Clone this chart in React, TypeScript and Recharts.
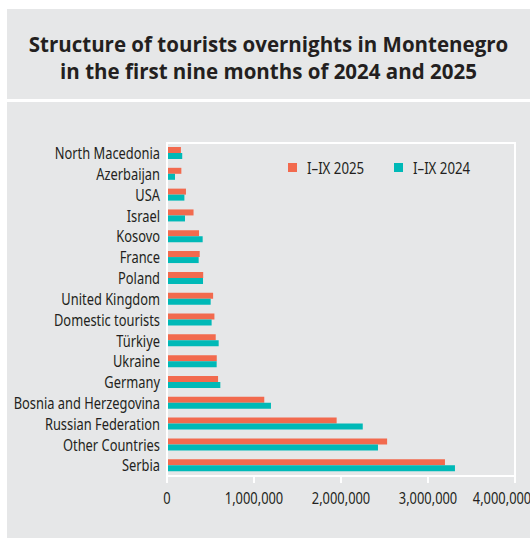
import { Bar, BarChart, ReferenceArea, XAxis, YAxis } from "recharts";

const countries = [
  "North Macedonia",
  "Azerbaijan",
  "USA",
  "Israel",
  "Kosovo",
  "France",
  "Poland",
  "United Kingdom",
  "Domestic tourists",
  "Türkiye",
  "Ukraine",
  "Germany",
  "Bosnia and Herzegovina",
  "Russian Federation",
  "Other Countries",
  "Serbia",
];
const nights2025 = [
  160000, 165000, 218000, 305000, 368000, 376000, 416000, 530000, 545000, 560000,
  572000, 587000, 1118000, 1950000, 2530000, 3195000,
];
const nights2024 = [
  175000, 92000, 200000, 207000, 410000, 364000, 414000, 502000, 513000, 594000,
  571000, 613000, 1195000, 2250000, 2425000, 3310000,
];
const xTicks = [0, 1000000, 2000000, 3000000, 4000000];
const seriesNames = ["I–IX 2025", "I–IX 2024"];

const data = countries.map((name, i) => ({
  name,
  y2025: nights2025[i],
  y2024: nights2024[i],
}));

const ORANGE = "#f26a4e";
const TEAL = "#00b9b7";
const BG = "#e6e7e8";
const TEXT = "#231f20";
const FONT = "'Noto Sans', sans-serif";
const SQUEEZE = 0.78;

const fmt = (v: number) => v.toLocaleString("en-US");

// condensed-looking labels: normal font squeezed horizontally
const YTick = ({ x, y, payload }: any) => (
  <g transform={`translate(${x},${y}) scale(${SQUEEZE},1)`}>
    <text x={0} y={0} dy="0.35em" textAnchor="end" fill={TEXT} fontFamily={FONT} fontSize={16.5}>
      {payload.value}
    </text>
  </g>
);

const XTick = ({ x, y, payload }: any) => (
  <g transform={`translate(${x},${y}) scale(${SQUEEZE},1)`}>
    <text x={0} y={0} dy="1em" textAnchor="middle" fill={TEXT} fontFamily={FONT} fontSize={16.5}>
      {fmt(payload.value)}
    </text>
  </g>
);

export default function App() {
  return (
    <div style={{ position: "absolute", left: 7, top: 9, width: 523 }}>
      <div
        style={{
          background: BG,
          height: 90,
          boxSizing: "border-box",
          paddingTop: 8,
          display: "flex",
          flexDirection: "column",
          justifyContent: "center",
          alignItems: "center",
          fontFamily: "'Open Sans', sans-serif",
          fontWeight: 700,
          fontSize: 20.5,
          lineHeight: "27px",
          color: TEXT,
          textAlign: "center",
        }}
      >
        <div>Structure of tourists overnights in Montenegro</div>
        <div>in the first nine months of 2024 and 2025</div>
      </div>
      <div style={{ height: 3 }} />
      <div style={{ background: BG, width: 523, height: 436, position: "relative" }}>
        <BarChart
          layout="vertical"
          width={523}
          height={436}
          data={data}
          margin={{ top: 41, right: 15, left: 0, bottom: 32 }}
          barSize={6}
          barGap={0}
        >
          <ReferenceArea x1={0} x2={4000000} fill="none" stroke="#ffffff" strokeWidth={2} fillOpacity={0} />
          <XAxis
            type="number"
            domain={[0, 4000000]}
            ticks={xTicks}
            stroke="#ffffff"
            strokeWidth={2}
            tickSize={7}
            tickMargin={4}
            tick={<XTick />}
            height={30}
          />
          <YAxis
            type="category"
            dataKey="name"
            width={160}
            stroke="#ffffff"
            strokeWidth={2}
            tickLine={false}
            tickMargin={1}
            interval={0}
            tick={<YTick />}
          />
          <Bar dataKey="y2025" name={seriesNames[0]} fill={ORANGE} isAnimationActive={false} />
          <Bar dataKey="y2024" name={seriesNames[1]} fill={TEAL} isAnimationActive={false} />
        </BarChart>
        {seriesNames.map((t, i) => (
          <div
            key={t}
            style={{
              position: "absolute",
              left: i === 0 ? 281 : 387,
              top: 55,
              height: 20,
              display: "flex",
              alignItems: "center",
              whiteSpace: "nowrap",
            }}
          >
            <span
              style={{
                width: 9,
                height: 9,
                background: i === 0 ? ORANGE : TEAL,
                display: "inline-block",
                marginRight: 10,
              }}
            />
            <span
              style={{
                display: "inline-block",
                fontFamily: FONT,
                fontSize: 17,
                color: TEXT,
                transform: `scaleX(${SQUEEZE})`,
                transformOrigin: "left center",
              }}
            >
              {t}
            </span>
          </div>
        ))}
      </div>
    </div>
  );
}
